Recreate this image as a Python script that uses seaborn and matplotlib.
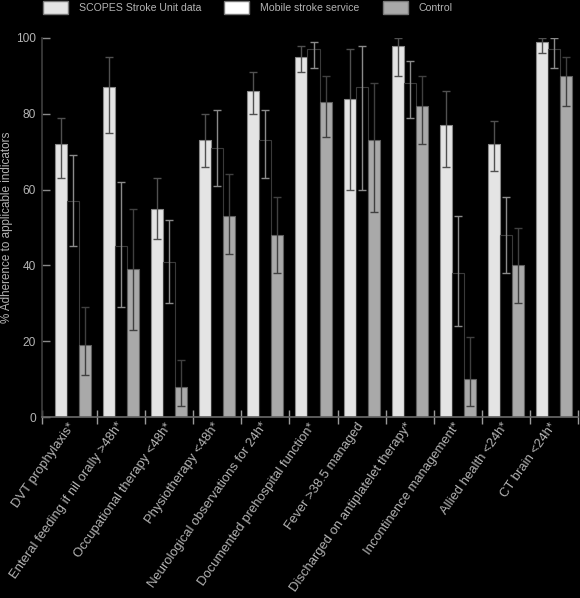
import numpy as np
import pandas as pd
import matplotlib
matplotlib.use("Agg")
import matplotlib.pyplot as plt
import seaborn as sns
from matplotlib.patches import Patch

categories = [
    "DVT prophylaxis*",
    "Enteral feeding if nil orally >48h*",
    "Occupational therapy <48h*",
    "Physiotherapy <48h*",
    "Neurological observations for 24h*",
    "Documented prehospital function*",
    "Fever >38.5 managed",
    "Discharged on antiplatelet therapy*",
    "Incontinence management*",
    "Allied health <24h*",
    "CT brain <24h*",
]
groups = ["SCOPES Stroke Unit data", "Mobile stroke service", "Control"]

scopes = [72, 87, 55, 73, 86, 95, 84, 98, 77, 72, 99]
scopes_lo = [63, 75, 47, 66, 80, 91, 60, 90, 66, 65, 96]
scopes_hi = [79, 95, 63, 80, 91, 98, 97, 100, 86, 78, 100]

mobile = [57, 45, 41, 71, 73, 97, 87, 88, 38, 48, 97]
mobile_lo = [45, 29, 30, 61, 63, 92, 60, 79, 24, 38, 92]
mobile_hi = [69, 62, 52, 81, 81, 99, 98, 94, 53, 58, 100]

control = [19, 39, 8, 53, 48, 83, 73, 82, 10, 40, 90]
control_lo = [11, 23, 3, 43, 38, 74, 54, 72, 3, 30, 82]
control_hi = [29, 55, 15, 64, 58, 90, 88, 90, 21, 50, 95]

df = pd.DataFrame({
    "indicator": categories * 3,
    "group": [g for g in groups for _ in categories],
    "value": scopes + mobile + control,
})

light = "#e4e4e4"
ctrl = "#a9a9a9"
textc = "#b4b4b4"

sns.set_theme(style="white")
plt.rcParams["font.family"] = ["Liberation Sans", "DejaVu Sans"]

fig = plt.figure(figsize=(5.8, 5.98), dpi=100, facecolor="black")
ax = fig.add_axes([42 / 580, 1 - 417 / 598, 536 / 580, 379 / 598])
ax.set_facecolor("black")

sns.barplot(data=df, x="indicator", y="value", hue="group", order=categories,
            hue_order=groups, palette=[light, "black", ctrl], saturation=1,
            errorbar=None, width=0.75, legend=False, ax=ax)

# bar outlines + CI whiskers per group
edges = ["#8a8a8a", "#3a3a3a", "#606060"]
err = [(scopes, scopes_lo, scopes_hi), (mobile, mobile_lo, mobile_hi),
       (control, control_lo, control_hi)]
ecols = ["#505050", "#8a8a8a", "#404040"]
for cont, ec, (v, lo, hi), col in zip(ax.containers, edges, err, ecols):
    for p in cont:
        p.set_edgecolor(ec)
        p.set_linewidth(0.8)
    xs = [p.get_x() + p.get_width() / 2 for p in cont]
    v = np.array(v)
    ax.errorbar(xs, v, yerr=[v - np.array(lo), np.array(hi) - v], fmt="none",
                ecolor=col, elinewidth=1.0, capsize=3, capthick=1.0)

x0 = -0.5 - 7 / 48
ax.set_xlim(x0, 10.5)
ax.set_ylim(0, 100)
ax.set_yticks(range(0, 101, 20))

for s in ["top", "right"]:
    ax.spines[s].set_visible(False)
ax.spines["left"].set_color("#3c3c3c")
ax.spines["bottom"].set_color("#666666")

ax.set_xticks(np.r_[x0, np.arange(0.5, 10.6, 1)], minor=True)
ax.tick_params(axis="x", which="minor", direction="inout", length=10,
               width=1, color="#9a9a9a", bottom=True)
ax.tick_params(axis="x", which="major", length=0, pad=5, labelsize=9.4,
               labelcolor=textc)
ax.tick_params(axis="y", direction="in", length=6, width=1, color="#8a8a8a",
               labelsize=8.6, pad=4.3, labelcolor=textc, left=True)
plt.setp(ax.get_xticklabels(), rotation=55, ha="right", va="center",
         rotation_mode="anchor")

ax.set_xlabel("")
ax.set_ylabel("% Adherence to applicable indicators", fontsize=8.4, color=textc)
ax.yaxis.set_label_coords(-0.054, 0.5)

handles = [Patch(facecolor=light, edgecolor="#777777"),
           Patch(facecolor="white", edgecolor="#777777"),
           Patch(facecolor=ctrl, edgecolor="#777777")]
fig.legend(handles, groups, loc="center left", bbox_to_anchor=(43 / 580, 1 - 7.5 / 598),
           ncol=3, frameon=False, fontsize=7.6, handlelength=2.37, handleheight=1.42,
           handletextpad=1.04, columnspacing=2.18, borderpad=0, borderaxespad=0,
           labelcolor=textc)

fig.savefig("out.png", dpi=100, facecolor="black")
